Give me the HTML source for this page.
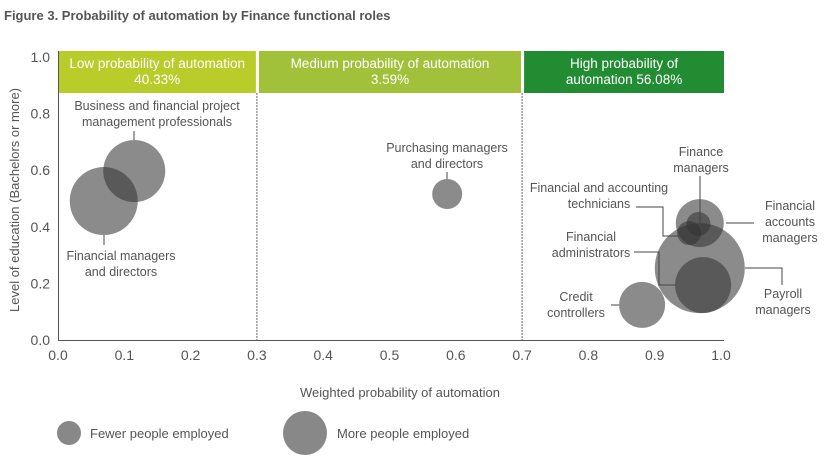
<!DOCTYPE html>
<html><head><meta charset="utf-8"><style>
body{margin:0;background:#fff;font-family:"Liberation Sans",sans-serif;}
svg text{font-family:"Liberation Sans",sans-serif;}
</style></head><body>
<svg width="834" height="459" viewBox="0 0 834 459" xmlns="http://www.w3.org/2000/svg">
<text x="4" y="20" font-size="13" font-weight="bold" fill="#555">Figure 3. Probability of automation by Finance functional roles</text>
<g id="bands"></g>
<g id="axes"></g>
<g id="bubbles"></g>
<g id="labels" font-size="12.5" fill="#555"></g>
<text x="400" y="397" font-size="13" fill="#555" text-anchor="middle">Weighted probability of automation</text>
<text transform="translate(19,200) rotate(-90)" font-size="13" fill="#555" text-anchor="middle">Level of education (Bachelors or more)</text>
<g>
<circle cx="69" cy="433" r="12" fill="#888"/>
<text x="90" y="438" font-size="13" fill="#555">Fewer people employed</text>
<circle cx="305" cy="433" r="22" fill="#888"/>
<text x="337" y="438" font-size="13" fill="#555">More people employed</text>
</g>
</svg>
<script>
const xTicks=[0,0.1,0.2,0.3,0.4,0.5,0.6,0.7,0.8,0.9,1.0];
const yTicks=[0,0.2,0.4,0.6,0.8,1.0];
const names=["Business and financial project management professionals","Financial managers and directors","Purchasing managers and directors","Payroll managers","Financial accounts managers","Financial administrators","Financial and accounting technicians","Finance managers","Credit controllers"];
const xVals=[0.115,0.069,0.587,0.968,0.968,0.973,0.952,0.966,0.881];
const yVals=[0.597,0.491,0.516,0.254,0.413,0.194,0.378,0.410,0.124];
const sizes=[31,34,15,45,24,28,12,12,23];
const bandLabels=[["Low probability of automation","40.33%"],["Medium probability of automation","3.59%"],["High probability of","automation 56.08%"]];
const bandStart=[0,0.3,0.7];
const bandEnd=[0.3,0.7,1.0];
const X=v=>58+v*663, Y=v=>340-v*283;
const NS="http://www.w3.org/2000/svg";
function mk(t,a,p){const e=document.createElementNS(NS,t);for(const k in a)e.setAttribute(k,a[k]);p.appendChild(e);return e;}
const colors=["#b8cc2a","#a2c13a","#228c33"];
const bands=document.getElementById('bands');
bandLabels.forEach((l,i)=>{
 const x0=X(bandStart[i])+(i?2:0.5), x1=X(bandEnd[i])-(i<2?1:-3);
 const r=mk('rect',{x:x0,y:51,width:x1-x0,height:42,fill:colors[i]},bands);
 
 
 [0,1].forEach(j=>{const t=mk('text',{x:(x0+x1)/2,y:68+j*16,'font-size':13.5,fill:'#fff','text-anchor':'middle'},bands);t.textContent=l[j];
 
 });
});
const ax=document.getElementById('axes');
mk('line',{x1:58.5,y1:51,x2:58.5,y2:340.5,stroke:'#555'},ax);
mk('line',{x1:58,y1:340.5,x2:724,y2:340.5,stroke:'#555'},ax);
[0.3,0.7].forEach(v=>{const l=mk('line',{x1:X(v),y1:93,x2:X(v),y2:340,stroke:'#666','stroke-dasharray':'2,1'},ax);

});
xTicks.forEach(v=>{const t=mk('text',{x:X(v),y:360,'font-size':14,fill:'#555','text-anchor':'middle'},ax);t.textContent=v.toFixed(1);

});
yTicks.forEach(v=>{const t=mk('text',{x:50,y:Y(v)+5,'font-size':14,fill:'#555','text-anchor':'end'},ax);t.textContent=v.toFixed(1);

});
const bg=document.getElementById('bubbles');
names.forEach((n,i)=>{const c=mk('circle',{cx:X(xVals[i]),cy:Y(yVals[i]),r:sizes[i],fill:'#333','fill-opacity':0.57},bg);

});
const lg=document.getElementById('labels');
function txt(lines,x,y,anchor){lines.forEach((s,j)=>{const t=mk('text',{x:x,y:y+j*16,'text-anchor':anchor||'middle'},lg);t.textContent=s;

});}
function ln(pts){const p=mk('polyline',{points:pts,fill:'none',stroke:'#444','stroke-width':1},lg);

}
txt(["Business and financial project","management professionals"],157,110);
ln("134,131 134,140");
txt(["Financial managers","and directors"],121,260);
ln("104,235 104,245");
txt(["Purchasing managers","and directors"],447,152);
ln("447,172 447,179");
txt(["Finance","managers"],701,156);
ln("700,176 700,228");
txt(["Financial and accounting","technicians"],599,192);
ln("636,207 663,207 663,236 681,236");
txt(["Financial","accounts","managers"],790,210);
ln("726,223 754,223");
txt(["Financial","administrators"],591,241);
ln("634,252 659,252 659,285 676,285");
txt(["Payroll","managers"],783,298);
ln("745,268 782,268 782,285");
txt(["Credit","controllers"],576,301);
ln("611,305 619,305");
</script>
</body></html>
